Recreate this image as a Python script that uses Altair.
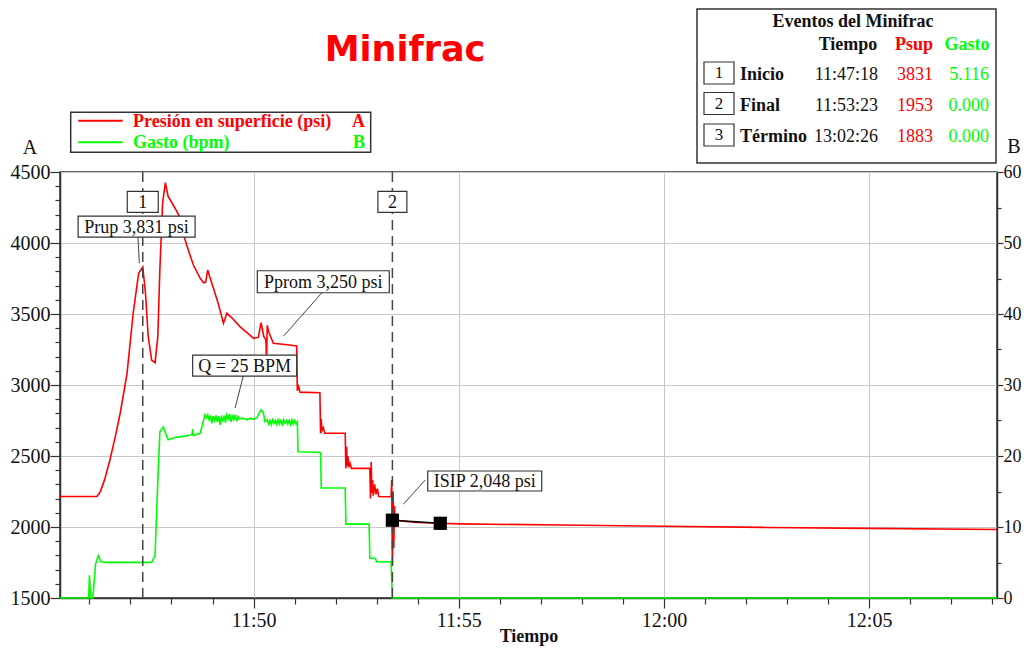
import altair as alt
import pandas as pd

SERIF = "Liberation Serif"
RED = "#ff0000"
GREEN = "#00ff00"
INK = "#111111"
DAY = "2024-01-01 "

# ---------------- data ----------------
red_time = ["11:45:17", "11:46:11", "11:46:16", "11:46:22", "11:46:30", "11:46:38", "11:46:45",
            "11:46:55", "11:47:04", "11:47:12", "11:47:18", "11:47:22", "11:47:26", "11:47:31",
            "11:47:36", "11:47:40", "11:47:43", "11:47:47", "11:47:51", "11:47:55", "11:48:01",
            "11:48:07", "11:48:13", "11:48:20", "11:48:26", "11:48:32", "11:48:42", "11:48:47",
            "11:48:50", "11:48:53", "11:48:56", "11:48:59", "11:49:08", "11:49:16", "11:49:21",
            "11:49:30", "11:49:40", "11:49:50", "11:50:00", "11:50:07", "11:50:11", "11:50:15",
            "11:50:18", "11:50:19", "11:50:20", "11:50:22", "11:50:29", "11:50:46", "11:51:03",
            "11:51:04", "11:51:06", "11:51:08", "11:51:37", "11:51:38", "11:51:39", "11:51:40",
            "11:51:42", "11:51:44", "11:52:14", "11:52:15", "11:52:16", "11:52:17", "11:52:18",
            "11:52:19", "11:52:21", "11:52:23", "11:52:50", "11:52:51", "11:52:52", "11:52:53",
            "11:52:54", "11:52:55", "11:52:57", "11:52:59", "11:53:01", "11:53:03", "11:53:21",
            "11:53:22", "11:53:23", "11:53:24", "11:53:25", "11:53:26", "11:53:27", "11:53:28",
            "11:53:30", "11:53:40", "11:54:00", "11:54:33", "11:55:00", "11:57:30", "12:00:00",
            "12:02:30", "12:05:00", "12:08:07"]
red_psi = [2215, 2215, 2249, 2330, 2472, 2640, 2801,
           3080, 3505, 3787, 3831, 3646, 3340, 3176,
           3157, 3340, 3810, 4280, 4425, 4330, 4280,
           4230, 4174, 4021, 3930, 3845, 3751, 3720,
           3725, 3810, 3760, 3717, 3580, 3435, 3505,
           3465, 3411, 3370, 3329, 3335, 3439, 3340,
           3320, 3176, 3420, 3375, 3294, 3285, 3275,
           2960, 2990, 2950, 2946, 2660, 2760, 2680,
           2700, 2660, 2660, 2413, 2565, 2430, 2500,
           2420, 2450, 2413, 2413, 2200, 2460, 2240,
           2330, 2220, 2300, 2230, 2270, 2215, 2213,
           2331, 1732, 2250, 1850, 2150, 2000, 2090,
           2048, 2040, 2032, 2026, 2022, 2014, 2005,
           1997, 1990, 1982]

green_time = ["11:45:17", "11:45:59", "11:46:00", "11:46:02", "11:46:05", "11:46:09", "11:46:13",
              "11:46:17", "11:46:25", "11:47:31", "11:47:33", "11:47:36", "11:47:39", "11:47:43",
              "11:47:48", "11:47:55", "11:48:05", "11:48:20", "11:48:30", "11:48:31", "11:48:32",
              "11:48:42", "11:48:49", "11:48:51", "11:48:53", "11:48:55", "11:48:57", "11:48:59",
              "11:49:01", "11:49:03", "11:49:05", "11:49:07", "11:49:09", "11:49:11", "11:49:13",
              "11:49:15", "11:49:17", "11:49:19", "11:49:21", "11:49:23", "11:49:25", "11:49:27",
              "11:49:29", "11:49:31", "11:49:33", "11:49:35", "11:49:37", "11:49:39", "11:49:41",
              "11:49:45", "11:49:50", "11:49:55", "11:50:00", "11:50:05", "11:50:08", "11:50:11",
              "11:50:14", "11:50:17", "11:50:20", "11:50:22", "11:50:24", "11:50:26", "11:50:28",
              "11:50:30", "11:50:32", "11:50:34", "11:50:36", "11:50:38", "11:50:40", "11:50:42",
              "11:50:44", "11:50:46", "11:50:48", "11:50:50", "11:50:52", "11:50:54", "11:50:56",
              "11:50:58", "11:51:00", "11:51:02", "11:51:04", "11:51:05", "11:51:38", "11:51:39",
              "11:52:14", "11:52:15", "11:52:49", "11:52:50", "11:52:58", "11:53:00", "11:53:21",
              "11:53:23", "12:08:07"]
green_bpm = [0, 0, 3.2, 0, 0, 4.8, 5.96,
             5.1, 5.02, 5.02, 5.4, 6.0, 14.0, 23.4,
             24.1, 22.3, 22.6, 22.8, 23.0, 23.8, 22.9,
             23.2, 25.8, 25.4, 25.8, 25.1, 25.7, 24.6,
             25.6, 25.0, 25.7, 24.8, 25.6, 24.4, 25.5,
             25.0, 25.7, 24.7, 25.8, 25.3, 25.9, 24.8,
             25.6, 25.1, 25.8, 24.9, 25.6, 25.2, 25.3,
             25.3, 25.1, 25.3, 25.2, 25.4, 26.0, 26.5,
             26.2, 24.8, 25.1, 24.5, 25.0, 24.4, 25.1,
             24.6, 25.0, 24.4, 25.1, 24.5, 25.0, 24.4,
             25.1, 24.6, 25.0, 24.5, 25.0, 24.4, 25.1,
             24.5, 25.0, 24.5, 24.8, 20.6, 20.5, 15.5,
             15.5, 10.4, 10.4, 5.6, 5.6, 5.1, 5.1,
             0, 0]

event_time = ["11:47:18", "11:53:23"]

isip_time = ["11:53:23", "11:54:33"]
isip_psi = [2048, 2026]

ann_text = ["1", "Prup 3,831 psi", "2", "Pprom 3,250 psi", "Q = 25 BPM", "ISIP 2,048 psi"]
ann_time = ["11:47:18", "11:47:09", "11:53:23", "11:51:42", "11:49:47", "11:55:38"]
ann_psi = [4289, 4115, 4289, 3727, 3137, 2324]

lead_t1 = ["11:47:11", "11:51:40", "11:49:45", "11:54:11"]
lead_p1 = [4041, 3650, 3063, 2331]
lead_t2 = ["11:47:13", "11:50:44", "11:49:33", "11:53:39"]
lead_p2 = [3857, 3345, 2838, 2160]

x_major = ["11:50", "11:55", "12:00", "12:05"]
x_minor = ["11:46", "11:47", "11:48", "11:49", "11:51", "11:52", "11:53", "11:54",
           "11:56", "11:57", "11:58", "11:59", "12:01", "12:02", "12:03", "12:04",
           "12:06", "12:07", "12:08"]
x_domain = ["11:45:17", "12:08:07"]
y_major = [1500, 2000, 2500, 3000, 3500, 4000, 4500]
y_minor = [1600, 1700, 1800, 1900, 2100, 2200, 2300, 2400, 2600, 2700, 2800, 2900,
           3100, 3200, 3300, 3400, 3600, 3700, 3800, 3900, 4100, 4200, 4300, 4400]
y2_major = [0, 10, 20, 30, 40, 50, 60]
y2_minor_psi = [1750, 2250, 2750, 3250, 3750, 4250]

tab_num = ["1", "2", "3"]
tab_name = ["Inicio", "Final", "Término"]
tab_time = ["11:47:18", "11:53:23", "13:02:26"]
tab_psup = ["3831", "1953", "1883"]
tab_gasto = ["5.116", "0.000", "0.000"]

# ---------------- styles (pixel sizes of boxes) ----------------
BOX = {"1": (31, 21), "Prup 3,831 psi": (117, 21), "2": (29, 21),
       "Pprom 3,250 psi": (132, 22), "Q = 25 BPM": (104, 21), "ISIP 2,048 psi": (114, 20)}


def ts(values):
    return pd.to_datetime([DAY + v for v in values])


def dt(s):
    p = [int(v) for v in s.split(":")]
    sec = p[2] if len(p) > 2 else 0
    return alt.DateTime(year=2024, month=1, date=1, hours=p[0], minutes=p[1], seconds=sec)


XS = alt.Scale(domain=[dt(v) for v in x_domain])
YS = alt.Scale(domain=[1500, 4500])
ONE = pd.DataFrame({"k": [0]})

red_df = pd.DataFrame({"time": ts(red_time), "psi": red_psi})
green_df = pd.DataFrame({"time": ts(green_time), "bpm": green_bpm})
event_df = pd.DataFrame({"time": ts(event_time)})
isip_df = pd.DataFrame({"time": ts(isip_time), "psi": isip_psi})
lead_df = pd.DataFrame({"t1": ts(lead_t1), "p1": lead_p1, "t2": ts(lead_t2), "p2": lead_p2})

layers = []

# red pressure with main axes + grid
layers.append(
    alt.Chart(red_df).mark_line(color=RED, strokeWidth=1.6).encode(
        x=alt.X("time:T", scale=XS, axis=alt.Axis(
            values=[dt(v) for v in x_major], format="%H:%M", title="Tiempo", orient="bottom",
            grid=True, tickSize=10, labelPadding=2, titleFontSize=18, titleFontWeight="bold",
            titleColor=INK, titleY=43, titleBaseline="alphabetic")),
        y=alt.Y("psi:Q", scale=YS, axis=alt.Axis(
            values=y_major, format="d", title=None, orient="left", grid=True, tickSize=10,
            labelPadding=0)),
    )
)

# green rate with right axis and minor x ticks
layers.append(
    alt.Chart(green_df).mark_line(color=GREEN, strokeWidth=1.6).encode(
        x=alt.X("time:T", scale=XS, axis=alt.Axis(
            values=[dt(v) for v in x_minor], labels=False, domain=False, grid=False,
            tickSize=6, title=None, orient="bottom")),
        y=alt.Y("bpm:Q", scale=alt.Scale(domain=[0, 60]), axis=alt.Axis(
            values=y2_major, title=None, orient="right", grid=False, tickSize=6,
            labelPadding=0, labelFontSize=18)),
    )
)

# event dashed lines
layers.append(
    alt.Chart(event_df).mark_rule(color="#444444", strokeWidth=1.5, strokeDash=[10, 6]).encode(
        x=alt.X("time:T", scale=XS, axis=None)
    )
)

# ISIP connecting line (carries right minor ticks)
layers.append(
    alt.Chart(isip_df).mark_line(color="#000000", strokeWidth=1.5).encode(
        x=alt.X("time:T", scale=XS, axis=None),
        y=alt.Y("psi:Q", scale=YS, axis=alt.Axis(
            values=y2_minor_psi, labels=False, domain=False, grid=False, tickSize=4,
            title=None, orient="right")),
    )
)
# squares (carries left minor ticks)
layers.append(
    alt.Chart(isip_df).mark_square(size=175, color="#000000", opacity=1).encode(
        x=alt.X("time:T", scale=XS, axis=None),
        y=alt.Y("psi:Q", scale=YS, axis=alt.Axis(
            values=y_minor, labels=False, domain=False, grid=False, tickSize=5,
            title=None, orient="left")),
    )
)

# leader lines
layers.append(
    alt.Chart(lead_df).mark_rule(color="#444444", strokeWidth=1).encode(
        x=alt.X("t1:T", scale=XS, axis=None), x2="t2:T",
        y=alt.Y("p1:Q", scale=YS, axis=None), y2="p2:Q",
    )
)

# annotation boxes
for txt, t, p in zip(ann_text, ann_time, ann_psi):
    w, h = BOX[txt]
    r = h / w
    d = pd.DataFrame({"time": ts([t]), "psi": [p], "label": [txt]})
    base = alt.Chart(d).encode(
        x=alt.X("time:T", scale=XS, axis=None),
        y=alt.Y("psi:Q", scale=YS, axis=None),
    )
    shape = f"M-1,{-r:.4f}H1V{r:.4f}H-1Z"
    layers.append(base.mark_point(shape=shape, size=w * w, filled=True, fill="white",
                                  stroke="#333333", strokeWidth=1.2, opacity=1))
    layers.append(base.mark_text(font=SERIF, fontSize=18, color=INK, align="center",
                                 baseline="middle", dy=1).encode(text="label:N"))


def ptext(txt, x, y, size=18, color=INK, weight="normal", align="left", font=SERIF):
    return alt.Chart(pd.DataFrame({"t": [txt]})).mark_text(
        align=align, baseline="middle", font=font, fontSize=size, fontWeight=weight, color=color
    ).encode(text="t:N", x=alt.value(x), y=alt.value(y))


def prect(x, x2, y, y2, stroke="#333333", sw=1.3):
    return alt.Chart(ONE).mark_rect(fill="white", stroke=stroke, strokeWidth=sw).encode(
        x=alt.value(x), x2=alt.value(x2), y=alt.value(y), y2=alt.value(y2))


def pline(x, x2, y, color, sw=2):
    return alt.Chart(ONE).mark_rule(color=color, strokeWidth=sw).encode(
        x=alt.value(x), x2=alt.value(x2), y=alt.value(y))


# title
layers.append(ptext("Minifrac", 345, -122, size=35, color=RED, weight="bold",
                    align="center", font="DejaVu Sans"))

# axis letters
layers.append(ptext("A", -30, -24, size=20, align="center"))
layers.append(ptext("B", 954, -25, size=20, align="center"))

# legend
layers.append(prect(10.7, 310.7, -59.7, -19.7, sw=1.5))
layers.append(pline(18.3, 62.7, -51.3, RED))
layers.append(pline(18.3, 62.7, -29.7, GREEN))
layers.append(ptext("Presión en superficie (psi)", 73, -50, size=18, color=RED, weight="bold"))
layers.append(ptext("A", 305, -50, size=18, color=RED, weight="bold", align="right"))
layers.append(ptext("Gasto (bpm)", 73, -29, size=18, color=GREEN, weight="bold"))
layers.append(ptext("B", 305, -29, size=18, color=GREEN, weight="bold", align="right"))

# events table
layers.append(prect(637, 936, -163, -9, sw=1.5))
layers.append(ptext("Eventos del Minifrac", 793, -150, size=18, weight="bold", align="center"))
layers.append(ptext("Tiempo", 788, -127, size=18, weight="bold", align="center"))
layers.append(ptext("Psup", 854, -127, size=18, weight="bold", align="center", color=RED))
layers.append(ptext("Gasto", 907, -127, size=18, weight="bold", align="center", color=GREEN))
row_y = [-97, -66, -35]
box_y = [-99, -68.5, -37]
for i in range(3):
    layers.append(prect(644, 674, box_y[i] - 11, box_y[i] + 11, sw=1.2))
    layers.append(ptext(tab_num[i], 659, box_y[i], size=17, align="center"))
    layers.append(ptext(tab_name[i], 680, row_y[i], size=18, weight="bold"))
    layers.append(ptext(tab_time[i], 818, row_y[i], size=18, align="right"))
    layers.append(ptext(tab_psup[i], 873, row_y[i], size=18, align="right", color=RED))
    layers.append(ptext(tab_gasto[i], 929, row_y[i], size=18, align="right", color=GREEN))

chart = alt.layer(*layers).resolve_scale(y="independent").resolve_axis(
    x="independent", y="independent"
).properties(
    width=937, height=426,
    padding={"left": 52, "top": 164, "right": 25, "bottom": 48},
    autosize=alt.AutoSizeParams(type="none"),
    background="white",
).configure_view(
    stroke="#333333", strokeWidth=1.5
).configure_axis(
    labelFont=SERIF, labelFontSize=20, labelColor=INK, titleFont=SERIF,
    tickColor="#333333", domainColor="#333333", tickWidth=1.2, domainWidth=1.5,
    gridColor="#c8c8c8", gridWidth=1,
)

chart.save("out.html", embed_options={"renderer": "svg", "actions": False})
